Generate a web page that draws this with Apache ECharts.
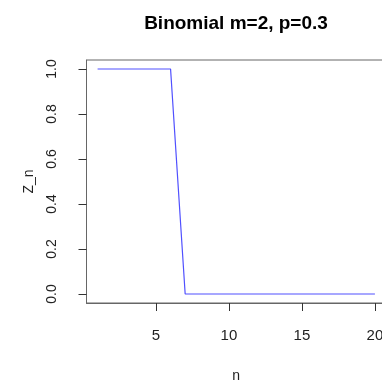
<!DOCTYPE html>
<html>
<head>
<meta charset="utf-8">
<script src="https://cdn.jsdelivr.net/npm/echarts@6/dist/echarts.min.js"></script>
<style>
  html, body { margin: 0; padding: 0; background: #fff; }
  #main { width: 382px; height: 382px; }
</style>
</head>
<body>
<div id="main"></div>
<script>
// n steps and the Z_n values
const nValues = [1, 2, 3, 4, 5, 6, 7, 8, 9, 10, 11, 12, 13, 14, 15, 16, 17, 18, 19, 20]
const zValues = [1, 1, 1, 1, 1, 1, 0, 0, 0, 0, 0, 0, 0, 0, 0, 0, 0, 0, 0, 0]
const xTicks = [5, 10, 15, 20]
const yTicks = [0, 0.2, 0.4, 0.6, 0.8, 1.0]

const chart = echarts.init(document.getElementById('main'))
const font = 'Liberation Sans, Arial, sans-serif'

let points = nValues.map((n, i) => [n, zValues[i]])

let option = {
  animation: false,
  title: {
    text: 'Binomial m=2, p=0.3',
    left: 231,
    top: 9,
    textAlign: 'center',
    textStyle: { fontFamily: font, fontWeight: 'bold', fontSize: 19, color: '#000' }
  },
  grid: {
    left: 86.5,
    top: 60,
    width: 299.5,
    height: 243,
    outerBoundsMode: 'none',
    containLabel: false,
    show: true,
    borderColor: '#666',
    borderWidth: 1
  },
  xAxis: {
    type: 'value',
    position: 'bottom',
    min: 0.24,
    max: 20.76,
    name: 'n',
    nameLocation: 'middle',
    nameGap: 66,
    nameTextStyle: { fontFamily: font, fontSize: 14, color: '#222' },
    axisLine: { show: true, onZero: false, lineStyle: { color: '#666' } },
    splitLine: { show: false },
    axisTick: { show: true, inside: false, length: 8, customValues: xTicks, lineStyle: { color: '#333', width: 1 } },
    axisLabel: {
      customValues: xTicks,
      margin: 25,
      fontFamily: font,
      fontSize: 15,
      color: '#222',
      formatter: (v) => String(v)
    }
  },
  yAxis: {
    type: 'value',
    min: -0.04,
    max: 1.04,
    name: 'Z_n',
    nameLocation: 'middle',
    nameGap: 50,
    nameRotate: 90,
    nameTextStyle: { fontFamily: font, fontSize: 14, color: '#222' },
    axisLine: { show: true, onZero: false, lineStyle: { color: '#666' } },
    splitLine: { show: false },
    axisTick: { show: true, inside: false, length: 8, customValues: yTicks, lineStyle: { color: '#333', width: 1 } },
    axisLabel: {
      customValues: yTicks,
      rotate: 90,
      margin: 27,
      fontFamily: font,
      fontSize: 14,
      color: '#222',
      formatter: (v) => v.toFixed(1)
    }
  },
  series: [{
    type: 'line',
    data: points,
    showSymbol: false,
    lineStyle: { color: '#5050ff', width: 1.2 }
  }]
}

chart.setOption(option)
</script>
</body>
</html>
